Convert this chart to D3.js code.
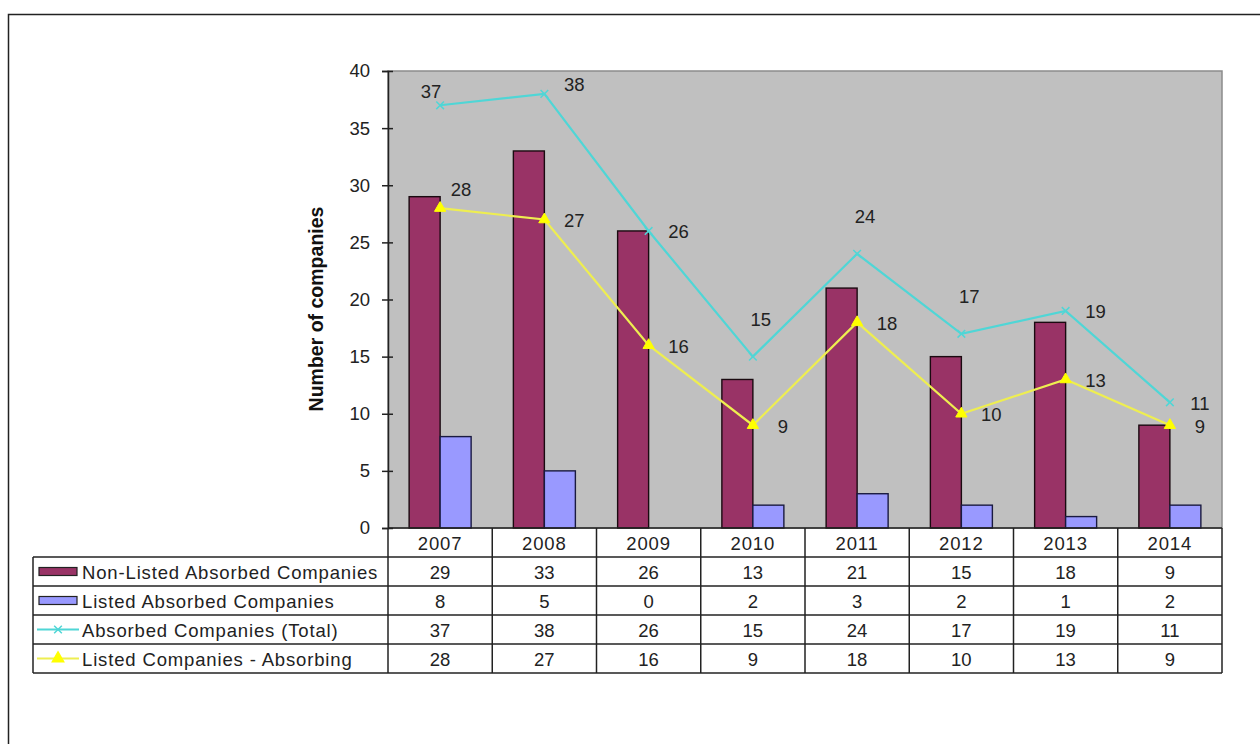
<!DOCTYPE html>
<html>
<head>
<meta charset="utf-8">
<script src="https://cdn.jsdelivr.net/npm/d3@7"></script>
<style>
	body { margin: 0; background: #fff; }
	svg { display: block; font-family: "Liberation Sans", Arial, sans-serif; }
</style>
</head>
<body>
<div id="chart"></div>
<script>
//===== DATA =====//

var years = ['2007', '2008', '2009', '2010', '2011', '2012', '2013', '2014'];
var nonListedAbsorbed = [29, 33, 26, 13, 21, 15, 18, 9];
var listedAbsorbed = [8, 5, 0, 2, 3, 2, 1, 2];
var absorbedTotal = [37, 38, 26, 15, 24, 17, 19, 11];
var listedAbsorbing = [28, 27, 16, 9, 18, 10, 13, 9];
var yTicks = [0, 5, 10, 15, 20, 25, 30, 35, 40];

// label placement for the line labels (as in the original)
var totalLabelPos = ['aboveLeft', 'rightUp', 'right', 'above', 'above', 'above', 'right', 'right'];
var absorbingLabelPos = ['aboveRight', 'right', 'right', 'right', 'right', 'right', 'right', 'right'];

//===== LAYOUT =====//

var W = 1260, H = 744;
var plot = {left: 388, right: 1222, top: 71, bottom: 528};
var rowH = 29, legendLeft = 33;
var fontSize = 18.5, spacing = '0.85px';
var colors = {
	nonListed: '#993366',
	listed: '#9999ff',
	total: '#4fd6d6',
	absorbing: '#eeee50',
	plotBg: '#c0c0c0'
};

var svg = d3.select('#chart').append('svg')
	.attr('width', W)
	.attr('height', H);

// outer chart frame
svg.append('rect')
	.attr('x', 8.5).attr('y', 14.5)
	.attr('width', 1400).attr('height', 900)
	.attr('fill', '#fff')
	.attr('stroke', '#222')
	.attr('stroke-width', 1.5);

var x = d3.scaleBand().domain(years).range([plot.left, plot.right]);
var y = d3.scaleLinear().domain([0, 40]).range([plot.bottom, plot.top]);
var barW = 31;

// plot area
svg.append('rect')
	.attr('x', plot.left).attr('y', plot.top)
	.attr('width', plot.right - plot.left).attr('height', plot.bottom - plot.top)
	.attr('fill', colors.plotBg)
	.attr('stroke', '#8c8c8c')
	.attr('stroke-width', 1.5);

// bars
svg.selectAll('rect.nonListed').data(nonListedAbsorbed).enter()
	.append('rect')
	.classed('nonListed', true)
	.attr('x', function (d, i) { return x(years[i]) + x.bandwidth() / 2 - barW; })
	.attr('y', function (d) { return y(d); })
	.attr('width', barW)
	.attr('height', function (d) { return y(0) - y(d); })
	.attr('fill', colors.nonListed)
	.attr('stroke', '#1a0a10')
	.attr('stroke-width', 1.4);

svg.selectAll('rect.listed').data(listedAbsorbed).enter()
	.append('rect')
	.classed('listed', true)
	.attr('x', function (d, i) { return x(years[i]) + x.bandwidth() / 2; })
	.attr('y', function (d) { return y(d); })
	.attr('width', barW)
	.attr('height', function (d) { return y(0) - y(d); })
	.attr('fill', colors.listed)
	.attr('stroke', '#1a1a40')
	.attr('stroke-width', 1.4)
	.style('display', function (d) { return d > 0 ? null : 'none'; });

// lines
function cx(i) { return x(years[i]) + x.bandwidth() / 2; }

var line = d3.line()
	.x(function (d, i) { return cx(i); })
	.y(function (d) { return y(d); });

svg.append('path')
	.datum(absorbedTotal)
	.attr('d', line)
	.attr('fill', 'none')
	.attr('stroke', colors.total)
	.attr('stroke-width', 2.2);

svg.append('path')
	.datum(listedAbsorbing)
	.attr('d', line)
	.attr('fill', 'none')
	.attr('stroke', colors.absorbing)
	.attr('stroke-width', 2.2);

// markers
var star = d3.symbol().type(d3.symbolTimes).size(40);
svg.selectAll('path.totalMark').data(absorbedTotal).enter()
	.append('path')
	.classed('totalMark', true)
	.attr('d', star)
	.attr('transform', function (d, i) { return 'translate(' + cx(i) + ',' + y(d) + ')'; })
	.attr('fill', colors.total)
	.attr('stroke', colors.total)
	.attr('stroke-width', 1.5);

var tri = d3.symbol().type(d3.symbolTriangle).size(55);
svg.selectAll('path.absMark').data(listedAbsorbing).enter()
	.append('path')
	.classed('absMark', true)
	.attr('d', tri)
	.attr('transform', function (d, i) { return 'translate(' + cx(i) + ',' + y(d) + ')'; })
	.attr('fill', '#ffff00')
	.attr('stroke', '#ffff00');

// line labels
function labelOffset(pos) {
	if (pos === 'above') { return [8, -37]; }
	if (pos === 'aboveLeft') { return [-9, -14]; }
	if (pos === 'aboveRight') { return [21, -19]; }
	if (pos === 'rightUp') { return [30, -9]; }
	return [30, 1];
}

function addLabels(values, positions) {
	svg.append('g').selectAll('text').data(values).enter()
		.append('text')
		.attr('x', function (d, i) { return cx(i) + labelOffset(positions[i])[0]; })
		.attr('y', function (d, i) { return y(d) + labelOffset(positions[i])[1]; })
		.attr('text-anchor', 'middle')
		.attr('dy', '0.35em')
		.attr('font-size', fontSize)
		.attr('fill', '#222')
		.text(function (d) { return d; });
}
addLabels(absorbedTotal, totalLabelPos);
addLabels(listedAbsorbing, absorbingLabelPos);

// y axis
var yAxis = svg.append('g')
	.attr('transform', 'translate(' + plot.left + ',0)')
	.call(d3.axisLeft(y).tickValues(yTicks).tickSize(6).tickPadding(12));
yAxis.select('.domain').attr('stroke', '#222').attr('stroke-width', 1.5);
yAxis.selectAll('.tick line').attr('x1', 5).attr('stroke', '#222').attr('stroke-width', 1.5);
yAxis.selectAll('.tick text')
	.attr('font-size', fontSize)
	.attr('font-family', '"Liberation Sans", Arial, sans-serif')
	.attr('fill', '#222');

svg.append('text')
	.attr('transform', 'translate(323,309) rotate(-90)')
	.attr('text-anchor', 'middle')
	.attr('font-size', 19.5)
	.attr('font-weight', 'bold')
	.attr('fill', '#111')
	.text('Number of companies');

//===== DATA TABLE =====//

var series = [
	{name: 'Non-Listed Absorbed Companies', values: nonListedAbsorbed, kind: 'bar', color: colors.nonListed},
	{name: 'Listed Absorbed Companies', values: listedAbsorbed, kind: 'bar', color: colors.listed},
	{name: 'Absorbed Companies (Total)', values: absorbedTotal, kind: 'line', color: colors.total, marker: star, markColor: colors.total},
	{name: 'Listed Companies - Absorbing', values: listedAbsorbing, kind: 'line', color: colors.absorbing, marker: tri, markColor: '#ffff00'}
];

var table = svg.append('g');
var lineStyle = function (sel) {
	return sel.attr('stroke', '#222').attr('stroke-width', 1.5);
};

// header row (years)
table.selectAll('text.year').data(years).enter()
	.append('text')
	.attr('x', function (d) { return x(d) + x.bandwidth() / 2; })
	.attr('y', plot.bottom + rowH / 2 + 1)
	.attr('dy', '0.35em')
	.attr('text-anchor', 'middle')
	.attr('font-size', fontSize)
	.attr('letter-spacing', spacing)
	.attr('fill', '#222')
	.text(function (d) { return d; });

var tableBottom = plot.bottom + rowH * (series.length + 1);

// horizontal lines
d3.range(series.length + 1).forEach(function (r) {
	var yy = plot.bottom + rowH * (r + 1);
	table.append('line')
		.attr('x1', legendLeft).attr('x2', plot.right)
		.attr('y1', yy).attr('y2', yy)
		.call(lineStyle);
});
table.append('line')
	.attr('x1', plot.left).attr('x2', plot.right)
	.attr('y1', plot.bottom).attr('y2', plot.bottom)
	.call(lineStyle);

// vertical lines
years.concat(['end']).forEach(function (yr, i) {
	var xx = plot.left + i * x.bandwidth();
	table.append('line')
		.attr('x1', xx).attr('x2', xx)
		.attr('y1', plot.bottom).attr('y2', tableBottom)
		.call(lineStyle);
});
table.append('line')
	.attr('x1', legendLeft).attr('x2', legendLeft)
	.attr('y1', plot.bottom + rowH).attr('y2', tableBottom)
	.call(lineStyle);

// rows
series.forEach(function (s, r) {
	var rowMid = plot.bottom + rowH * (r + 1) + rowH / 2;
	var row = table.append('g');

	if (s.kind === 'bar') {
		row.append('rect')
			.attr('x', 39).attr('y', rowMid - 4)
			.attr('width', 38).attr('height', 8)
			.attr('fill', s.color)
			.attr('stroke', '#222')
			.attr('stroke-width', 1.2);
	} else {
		row.append('line')
			.attr('x1', 37).attr('x2', 79)
			.attr('y1', rowMid).attr('y2', rowMid)
			.attr('stroke', s.color)
			.attr('stroke-width', 2);
		row.append('path')
			.attr('d', s.marker)
			.attr('transform', 'translate(58,' + rowMid + ')')
			.attr('fill', s.markColor)
			.attr('stroke', s.markColor)
			.attr('stroke-width', 1.5);
	}

	row.append('text')
		.attr('x', 82).attr('y', rowMid + 1)
		.attr('dy', '0.35em')
		.attr('font-size', fontSize)
		.attr('letter-spacing', spacing)
		.attr('fill', '#222')
		.text(s.name);

	row.selectAll('text.val').data(s.values).enter()
		.append('text')
		.classed('val', true)
		.attr('x', function (d, i) { return cx(i); })
		.attr('y', rowMid + 1)
		.attr('dy', '0.35em')
		.attr('text-anchor', 'middle')
		.attr('font-size', fontSize)
		.attr('fill', '#222')
		.text(function (d) { return d; });
});
</script>
</body>
</html>
